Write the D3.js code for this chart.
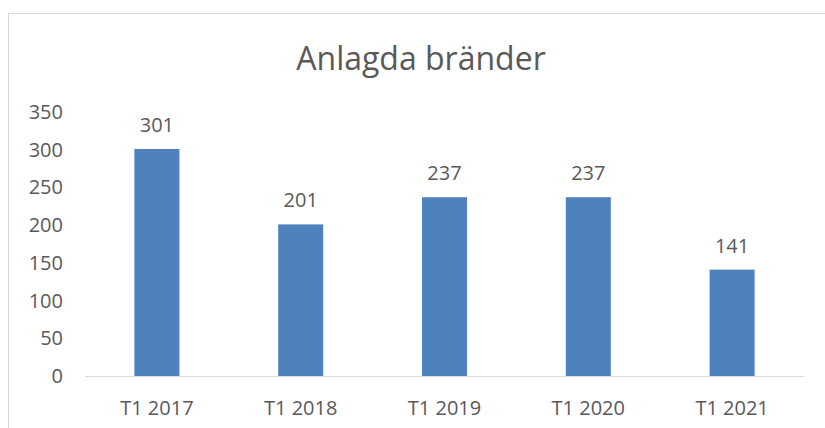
<!DOCTYPE html>
<html>
<head>
<meta charset="utf-8">
<script src="https://cdn.jsdelivr.net/npm/d3@7"></script>
<style>
  body { margin: 0; background: #fff; }
  text { font-family: "Open Sans", sans-serif; fill: #595959; }
</style>
</head>
<body>
<svg width="825" height="428"></svg>
<script>
var categories = ["T1 2017", "T1 2018", "T1 2019", "T1 2020", "T1 2021"];
var values = [301, 201, 237, 237, 141];
var yTicks = [0, 50, 100, 150, 200, 250, 300, 350];
var title = "Anlagda bränder";

var svg = d3.select("svg");

// chart frame
svg.append("rect")
    .attr("x", 8.5).attr("y", 13.5)
    .attr("width", 830).attr("height", 430)
    .attr("fill", "none")
    .attr("stroke", "#d9d9d9");

var x = d3.scaleBand()
    .domain(categories)
    .range([85, 804])
    .paddingInner(0.687)
    .paddingOuter(0.3435);

var y = d3.scaleLinear()
    .domain([0, 350])
    .range([376, 112]);

svg.append("text")
    .attr("x", 421).attr("y", 70)
    .attr("text-anchor", "middle")
    .style("font-size", "32px")
    .text(title);

// y tick labels
svg.selectAll(".ytick")
    .data(yTicks)
  .enter().append("text")
    .attr("class", "ytick")
    .attr("x", 63)
    .attr("y", function(d) { return y(d); })
    .attr("dy", "0.35em")
    .attr("text-anchor", "end")
    .style("font-size", "20px")
    .text(function(d) { return d; });

svg.selectAll(".bar")
    .data(values)
  .enter().append("rect")
    .attr("class", "bar")
    .attr("x", function(d, i) { return x(categories[i]); })
    .attr("y", function(d) { return y(d); })
    .attr("width", x.bandwidth())
    .attr("height", function(d) { return y(0) - y(d); })
    .attr("fill", "#4f81bd");

svg.selectAll(".vlabel")
    .data(values)
  .enter().append("text")
    .attr("class", "vlabel")
    .attr("x", function(d, i) { return x(categories[i]) + x.bandwidth() / 2; })
    .attr("y", function(d) { return y(d) - 24; })
    .attr("dy", "0.35em")
    .attr("text-anchor", "middle")
    .style("font-size", "20px")
    .text(function(d) { return d; });

// x axis line
svg.append("line")
    .attr("x1", 85).attr("x2", 804)
    .attr("y1", y(0) + 0.5).attr("y2", y(0) + 0.5)
    .attr("stroke", "#d9d9d9")
    .attr("stroke-width", 1);

svg.selectAll(".xlabel")
    .data(categories)
  .enter().append("text")
    .attr("class", "xlabel")
    .attr("x", function(d) { return x(d) + x.bandwidth() / 2; })
    .attr("y", 408)
    .attr("dy", "0.35em")
    .attr("text-anchor", "middle")
    .style("font-size", "20px")
    .text(function(d) { return d; });
</script>
</body>
</html>
